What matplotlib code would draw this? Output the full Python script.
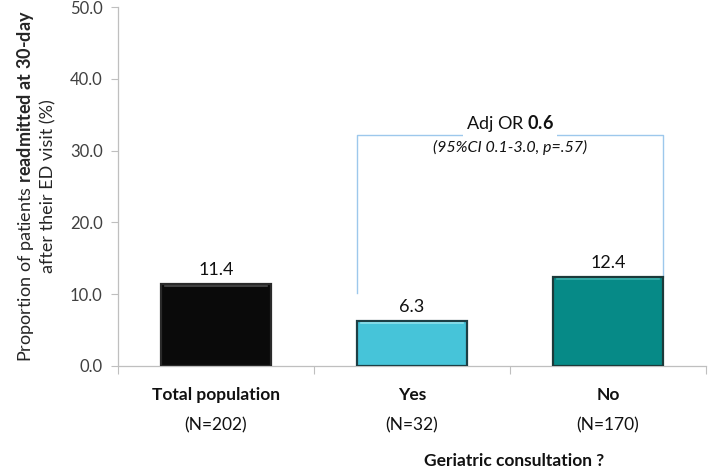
import matplotlib
matplotlib.use("Agg")
import matplotlib.pyplot as plt
import numpy as np

plt.rcParams["font.family"] = ["Lato", "DejaVu Sans"]
plt.rcParams["mathtext.fontset"] = "custom"
plt.rcParams["mathtext.rm"] = "Lato"
plt.rcParams["mathtext.bf"] = "Lato:bold"
plt.rcParams["mathtext.it"] = "Lato:italic"

# data
categories = ["Total population", "Yes", "No"]
counts = ["(N=202)", "(N=32)", "(N=170)"]
values = [11.4, 6.3, 12.4]
bar_colors = ["#0a0a0a", "#46c4d9", "#068a87"]
edge_colors = ["#2a2a2a", "#1d3f45", "#1c3a3a"]
top_colors = ["#4a4a4a", "#8ee0ec", "#3bb0ac"]
or_text = r"Adj OR $\mathbf{0.6}$"
ci_text = "(95%CI 0.1-3.0, p=.57)"
bracket_top = 32.2

fig = plt.figure(figsize=(7.08, 4.76), dpi=100)
ax = fig.add_axes([118 / 708, 1 - 366 / 476, (706 - 118) / 708, (366 - 7) / 476])

x = np.arange(len(categories))
w = 0.56
ax.bar(x, values, width=w, color=bar_colors, edgecolor=edge_colors, linewidth=1.6, zorder=3)
# bevel highlight just under the top edge
for xi, v, tc in zip(x, values, top_colors):
    ax.plot([xi - w / 2 + 0.02, xi + w / 2 - 0.02], [v - 0.25, v - 0.25], color=tc, lw=1.2, zorder=4)

for xi, v in zip(x, values):
    ax.text(xi, v + 0.8, f"{v:.1f}", ha="center", va="bottom", fontsize=13, color="#111111")

# bracket comparing Yes vs No
xl, xr = x[1] - w / 2, x[2] + w / 2
bc = "#9dc8ec"
ax.plot([xl, xl, xr, xr], [10.2, bracket_top, bracket_top, values[2]], color=bc, lw=1.0, zorder=2)
ax.text((x[1] + x[2]) / 2, bracket_top + 1.6, or_text, ha="center", va="center", fontsize=13,
        color="#111111", bbox=dict(facecolor="white", edgecolor="none", pad=2), zorder=5)
ax.text((x[1] + x[2]) / 2, bracket_top - 1.8, ci_text, ha="center", va="center", fontsize=11.5,
        style="italic", color="#111111", zorder=5)

ax.set_xlim(-0.5, 2.5)
ax.set_ylim(0, 50)
ax.set_yticks(np.arange(0, 51, 10))
ax.set_yticklabels([f"{t:.1f}" for t in np.arange(0, 51, 10)], fontsize=12, color="#404040")
ax.tick_params(axis="y", length=5, width=0.8, color="#bfbfbf", pad=6)
ax.set_xticks([-0.5, 0.5, 1.5, 2.5])
ax.set_xticklabels([])
ax.tick_params(axis="x", length=6, width=0.8, color="#bfbfbf")
for s in ["top", "right"]:
    ax.spines[s].set_visible(False)
for s in ["left", "bottom"]:
    ax.spines[s].set_color("#bfbfbf")
    ax.spines[s].set_linewidth(0.9)

for xi, c, n in zip(x, categories, counts):
    ax.text(xi, -29 / 359, c, transform=ax.get_xaxis_transform(), ha="center", va="center",
            fontsize=12.5, fontweight="bold", color="#111111")
    ax.text(xi, -59 / 359, n, transform=ax.get_xaxis_transform(), ha="center", va="center",
            fontsize=12.5, color="#111111")
ax.text(1.52, -95 / 359, "Geriatric consultation ?", transform=ax.get_xaxis_transform(),
        ha="center", va="center", fontsize=12.5, fontweight="bold", color="#111111")

ax.set_ylabel("Proportion of patients $\\mathbf{readmitted\\ at\\ 30\u2010day}$\nafter their ED visit (%)",
              fontsize=13, color="#262626", labelpad=10, linespacing=1.3)

fig.savefig("out.png", dpi=100)
